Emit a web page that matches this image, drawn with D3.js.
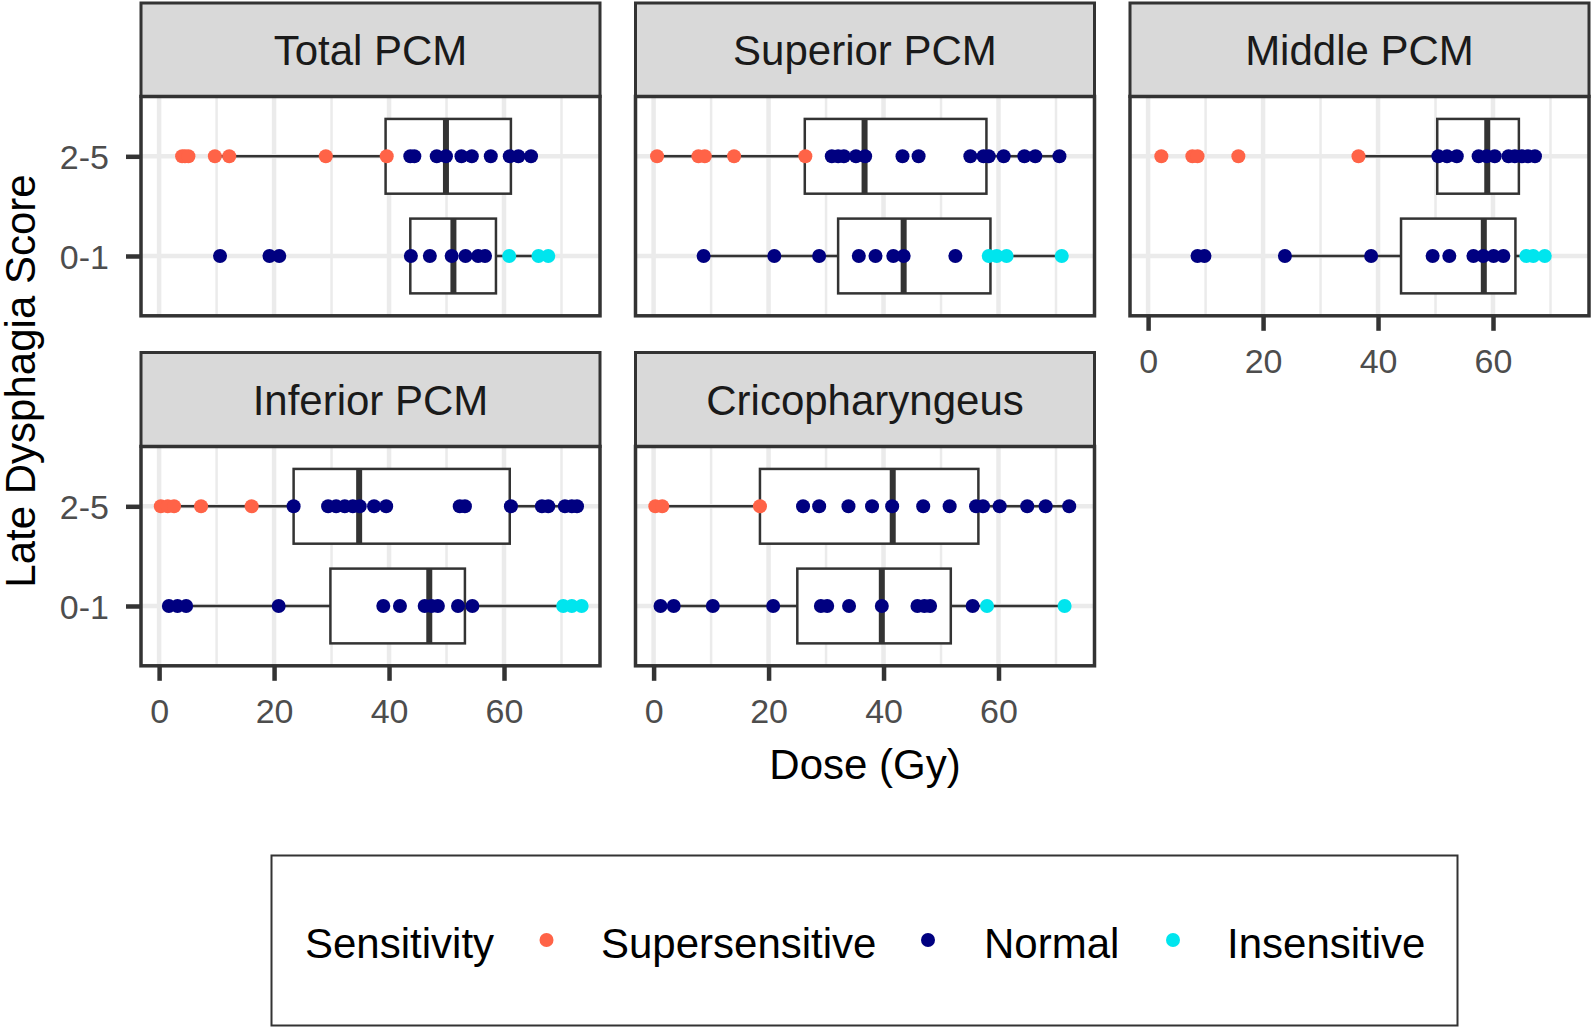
<!DOCTYPE html>
<html><head><meta charset="utf-8">
<script src="https://cdn.jsdelivr.net/npm/d3@7"></script>
<style>html,body{margin:0;padding:0;background:#fff;}svg{display:block;font-family:"Liberation Sans",Arial,sans-serif;}</style>
</head><body>
<script>
// ---------- DATA ----------
const panelNames = ["Total PCM", "Superior PCM", "Middle PCM", "Inferior PCM", "Cricopharyngeus"];
const scoreGroups = ["2-5", "0-1"];
const sensitivityLevels = ["Supersensitive", "Normal", "Insensitive"];
const xTicks = [0, 20, 40, 60];
const xMinorTicks = [10, 30, 50, 70];

// points per panel: group -> sensitivity -> doses (Gy)
const totalPCM = {
  "2-5": { Supersensitive: [4.0, 4.5, 5.1, 9.7, 12.2, 29.0, 39.6], Normal: [43.7, 44.4, 48.3, 49.9, 52.6, 54.4, 57.7, 61.0, 62.5, 64.7], Insensitive: [] },
  "0-1": { Supersensitive: [], Normal: [10.6, 19.2, 20.9, 43.8, 47.1, 50.9, 53.3, 55.5, 56.7], Insensitive: [60.9, 66.0, 67.7] }
};
const superiorPCM = {
  "2-5": { Supersensitive: [0.6, 7.8, 8.9, 14.0, 26.4], Normal: [31.0, 32.1, 33.1, 35.2, 36.8, 43.3, 46.1, 55.1, 57.4, 58.3, 60.9, 64.5, 66.4, 70.6], Insensitive: [] },
  "0-1": { Supersensitive: [], Normal: [8.7, 21.0, 28.8, 35.7, 38.6, 41.7, 43.5, 52.5], Insensitive: [58.3, 59.7, 61.4, 71.0] }
};
const middlePCM = {
  "2-5": { Supersensitive: [2.3, 7.7, 8.6, 15.7, 36.6], Normal: [50.5, 52.0, 53.7, 57.5, 58.9, 60.3, 62.7, 63.8, 65.0, 66.1, 67.3], Insensitive: [] },
  "0-1": { Supersensitive: [], Normal: [8.6, 9.8, 23.8, 38.8, 49.5, 52.4, 56.6, 58.3, 60.1, 61.8], Insensitive: [65.8, 67.0, 69.0] }
};
const inferiorPCM = {
  "2-5": { Supersensitive: [0.3, 1.5, 2.6, 7.3, 16.1], Normal: [23.4, 29.4, 30.8, 32.3, 33.7, 34.9, 37.4, 39.5, 52.3, 53.2, 61.2, 66.6, 67.7, 70.6, 71.8, 72.7], Insensitive: [] },
  "0-1": { Supersensitive: [], Normal: [1.7, 3.2, 4.7, 20.8, 39.0, 41.9, 46.2, 47.4, 48.5, 52.0, 54.5], Insensitive: [70.3, 71.8, 73.5] }
};
const cricopharyngeus = {
  "2-5": { Supersensitive: [0.3, 1.5, 18.5], Normal: [26.0, 28.8, 33.9, 38.0, 41.5, 46.9, 51.5, 56.1, 57.3, 60.2, 65.0, 68.2, 72.3], Insensitive: [] },
  "0-1": { Supersensitive: [], Normal: [1.2, 3.5, 10.3, 20.8, 29.1, 30.2, 34.0, 39.7, 45.9, 47.1, 48.1, 55.5], Insensitive: [58.0, 71.5] }
};

// box stats: [lower whisker, Q1, median, Q3, upper whisker]
const totalPCMBox = { "2-5": [9.7, 39.4, 49.9, 61.2, 64.7], "0-1": [43.7, 43.7, 51.2, 58.6, 67.7] };
const superiorPCMBox = { "2-5": [0.6, 26.3, 36.7, 57.9, 70.6], "0-1": [8.7, 32.1, 43.5, 58.6, 71.0] };
const middlePCMBox = { "2-5": [36.6, 50.3, 59.0, 64.5, 67.3], "0-1": [23.8, 44.0, 58.4, 63.9, 69.0] };
const inferiorPCMBox = { "2-5": [0.3, 23.4, 34.8, 61.0, 72.7], "0-1": [1.7, 29.8, 47.0, 53.2, 73.5] };
const cricopharyngeusBox = { "2-5": [0.3, 18.5, 41.6, 56.5, 72.3], "0-1": [1.2, 25.0, 39.7, 51.7, 71.5] };

const panelPoints = [totalPCM, superiorPCM, middlePCM, inferiorPCM, cricopharyngeus];
const panelBoxes = [totalPCMBox, superiorPCMBox, middlePCMBox, inferiorPCMBox, cricopharyngeusBox];

// ---------- LAYOUT / STYLE ----------
const W = 1594, H = 1030;
const colors = { Supersensitive: "#FF6347", Normal: "#000080", Insensitive: "#00E5EE" };
const colLeft = [141, 635.5, 1130];
const panelW = 459;
const rowTop = [96.5, 446.5];
const panelH = 219.3;
const stripTop = [3, 352.5];
const dark = "#333333";
const fontSmall = 34, fontBig = 42, fontStrip = 42;
const dotR = 7;

const svg = d3.select("body").append("svg").attr("width", W).attr("height", H);
svg.append("rect").attr("width", W).attr("height", H).attr("fill", "#fff");

panelNames.forEach((name, i) => {
  const col = i % 3, row = Math.floor(i / 3);
  const x0 = colLeft[col], y0 = rowTop[row];
  const x = d3.scaleLinear().domain([-3.15, 76.7]).range([x0, x0 + panelW]);
  const y = d3.scalePoint().domain(scoreGroups).range([y0, y0 + panelH]).padding(0.6);
  const g = svg.append("g");

  // strip
  g.append("rect").attr("x", x0).attr("y", stripTop[row]).attr("width", panelW).attr("height", y0 - stripTop[row])
    .attr("fill", "#D9D9D9").attr("stroke", dark).attr("stroke-width", 3);
  g.append("text").attr("x", x0 + panelW / 2).attr("y", (stripTop[row] + y0) / 2 + 1)
    .attr("text-anchor", "middle").attr("dominant-baseline", "central")
    .attr("font-size", fontStrip).attr("fill", "#1A1A1A").text(name);

  // panel background & grid
  g.append("rect").attr("x", x0).attr("y", y0).attr("width", panelW).attr("height", panelH).attr("fill", "#fff");
  g.selectAll(".minor").data(xMinorTicks).join("line")
    .attr("x1", d => x(d)).attr("x2", d => x(d)).attr("y1", y0).attr("y2", y0 + panelH)
    .attr("stroke", "#EBEBEB").attr("stroke-width", 2.5);
  g.selectAll(".major").data(xTicks).join("line")
    .attr("x1", d => x(d)).attr("x2", d => x(d)).attr("y1", y0).attr("y2", y0 + panelH)
    .attr("stroke", "#EBEBEB").attr("stroke-width", 4.5);
  g.selectAll(".hmajor").data(scoreGroups).join("line")
    .attr("x1", x0).attr("x2", x0 + panelW).attr("y1", d => y(d)).attr("y2", d => y(d))
    .attr("stroke", "#EBEBEB").attr("stroke-width", 4.5);

  // boxplots
  const step = y.step();
  const half = step * 0.375;
  const boxes = panelBoxes[i];
  scoreGroups.forEach(grp => {
    const [lo, q1, med, q3, hi] = boxes[grp];
    const cy = y(grp);
    g.append("line").attr("x1", x(lo)).attr("x2", x(q1)).attr("y1", cy).attr("y2", cy).attr("stroke", dark).attr("stroke-width", 2.5);
    g.append("line").attr("x1", x(q3)).attr("x2", x(hi)).attr("y1", cy).attr("y2", cy).attr("stroke", dark).attr("stroke-width", 2.5);
    g.append("rect").attr("x", x(q1)).attr("y", cy - half).attr("width", x(q3) - x(q1)).attr("height", 2 * half)
      .attr("fill", "#fff").attr("stroke", dark).attr("stroke-width", 2.5);
    g.append("line").attr("x1", x(med)).attr("x2", x(med)).attr("y1", cy - half).attr("y2", cy + half)
      .attr("stroke", dark).attr("stroke-width", 6);
  });

  // points
  const pts = [];
  scoreGroups.forEach(grp => sensitivityLevels.forEach(s => panelPoints[i][grp][s].forEach(v => pts.push({ grp, s, v }))));
  g.selectAll(".pt").data(pts).join("circle")
    .attr("cx", d => x(d.v)).attr("cy", d => y(d.grp)).attr("r", dotR).attr("fill", d => colors[d.s]);

  // border
  g.append("rect").attr("x", x0).attr("y", y0).attr("width", panelW).attr("height", panelH)
    .attr("fill", "none").attr("stroke", dark).attr("stroke-width", 3.5);

  // x axis (bottom panels of each column)
  if (row === 1 || col === 2) {
    const ax = g.append("g").attr("transform", `translate(0,${y0 + panelH})`)
      .call(d3.axisBottom(x).tickValues(xTicks).tickSize(15).tickPadding(18).tickFormat(d3.format("d")));
    ax.select(".domain").remove();
    ax.selectAll(".tick line").attr("stroke", dark).attr("stroke-width", 4.5);
    ax.selectAll(".tick text").attr("font-size", fontSmall).attr("fill", "#4D4D4D").attr("font-family", "Liberation Sans, Arial, sans-serif");
  }
  // y axis (left column)
  if (col === 0) {
    const ay = g.append("g").attr("transform", `translate(${x0},0)`)
      .call(d3.axisLeft(y).tickSize(15).tickPadding(17));
    ay.select(".domain").remove();
    ay.selectAll(".tick line").attr("stroke", dark).attr("stroke-width", 4.5);
    ay.selectAll(".tick text").attr("font-size", fontSmall).attr("fill", "#4D4D4D").attr("dy", "0.36em")
      .attr("font-family", "Liberation Sans, Arial, sans-serif");
  }
});

// axis titles
svg.append("text").attr("x", 865).attr("y", 764).attr("text-anchor", "middle").attr("dominant-baseline", "central")
  .attr("font-size", fontBig).attr("fill", "#000").text("Dose (Gy)");
svg.append("text").attr("transform", "translate(20,381) rotate(-90)").attr("text-anchor", "middle").attr("dominant-baseline", "central")
  .attr("font-size", fontBig).attr("fill", "#000").text("Late Dysphagia Score");

// legend
const lg = svg.append("g");
lg.append("rect").attr("x", 271.5).attr("y", 855.5).attr("width", 1186).attr("height", 170)
  .attr("fill", "#fff").attr("stroke", dark).attr("stroke-width", 2);
const legendY = 943;
lg.append("text").attr("x", 305).attr("y", legendY).attr("dominant-baseline", "central")
  .attr("font-size", fontBig).attr("fill", "#000").text("Sensitivity");
const legendDotX = [546.5, 928, 1173];
const legendTextX = [601, 984, 1227];
sensitivityLevels.forEach((s, k) => {
  lg.append("circle").attr("cx", legendDotX[k]).attr("cy", legendY - 3).attr("r", dotR).attr("fill", colors[s]);
  lg.append("text").attr("x", legendTextX[k]).attr("y", legendY).attr("dominant-baseline", "central")
    .attr("font-size", fontBig).attr("fill", "#000").text(s);
});
</script>
</body></html>
